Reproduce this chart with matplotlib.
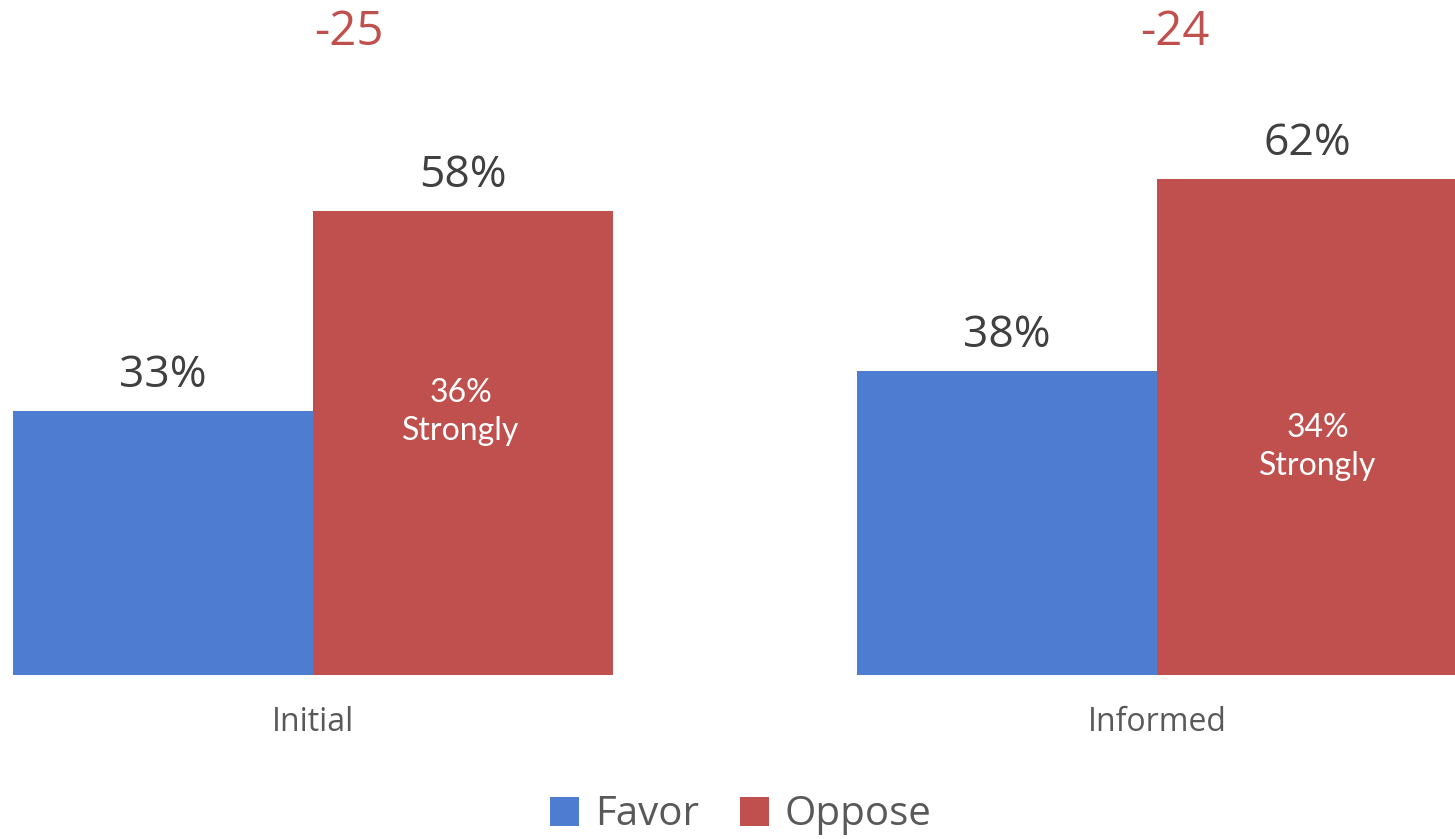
import matplotlib
matplotlib.use("Agg")
import matplotlib.pyplot as plt
import numpy as np

categories = ["Initial", "Informed"]
favor = [33, 38]
oppose = [58, 62]
strongly_oppose = [36, 34]
series_names = ["Favor", "Oppose"]

BLUE = "#4E7CD0"
RED = "#C0504D"
GRAY = "#404040"

fig = plt.figure(figsize=(14.55, 8.39), dpi=100)
W, H = 1455, 839
ax = fig.add_axes([12 / W, (H - 675) / H, 1 - 12 / W, 675 / H])

x = np.arange(len(categories))
bw = 300 / 844
ax.bar(x - bw / 2, favor, bw, color=BLUE, label=series_names[0])
ax.bar(x + bw / 2, oppose, bw, color=RED, label=series_names[1])
ax.set_xlim(-bw - 0.001, 1 + 298 / 844)
ax.set_ylim(0, 675 / 8)

diff_dx = [36 / 844, 18 / 844]
strong_y = [32.9, 28.5]
strong_dx = [-2 / 844, 11 / 844]
for i in range(len(categories)):
    ax.text(x[i] - bw / 2, favor[i] + 1.6, f"{favor[i]}%", ha="center", va="bottom",
            fontsize=32, color=GRAY, family="Open Sans")
    ax.text(x[i] + bw / 2, oppose[i] + 1.6, f"{oppose[i]}%", ha="center", va="bottom",
            fontsize=32, color=GRAY, family="Open Sans")
    diff = favor[i] - oppose[i]
    ax.text(x[i] + diff_dx[i], 80.4, f"{diff}", ha="center", va="center",
            fontsize=34, color=RED, family="Open Sans")
    ax.text(x[i] + bw / 2 + strong_dx[i], strong_y[i], f"{strongly_oppose[i]}%\nStrongly",
            ha="center", va="center", fontsize=23, color="white", family="Lato", linespacing=1.32)

for s in ax.spines.values():
    s.set_visible(False)
ax.set_yticks([])
ax.set_xticks(x)
ax.set_xticklabels(categories, fontsize=23, color="#595959", family="Open Sans")
ax.tick_params(axis="x", length=0, pad=22)

leg = fig.legend(loc="center", bbox_to_anchor=(741 / W, (H - 815) / H), ncol=2, frameon=False,
                 prop={"family": "Open Sans", "size": 29}, handlelength=0.72, handleheight=0.72,
                 handletextpad=0.4, columnspacing=1.0)
for t in leg.get_texts():
    t.set_color("#595959")

fig.savefig("out.png", dpi=100)
